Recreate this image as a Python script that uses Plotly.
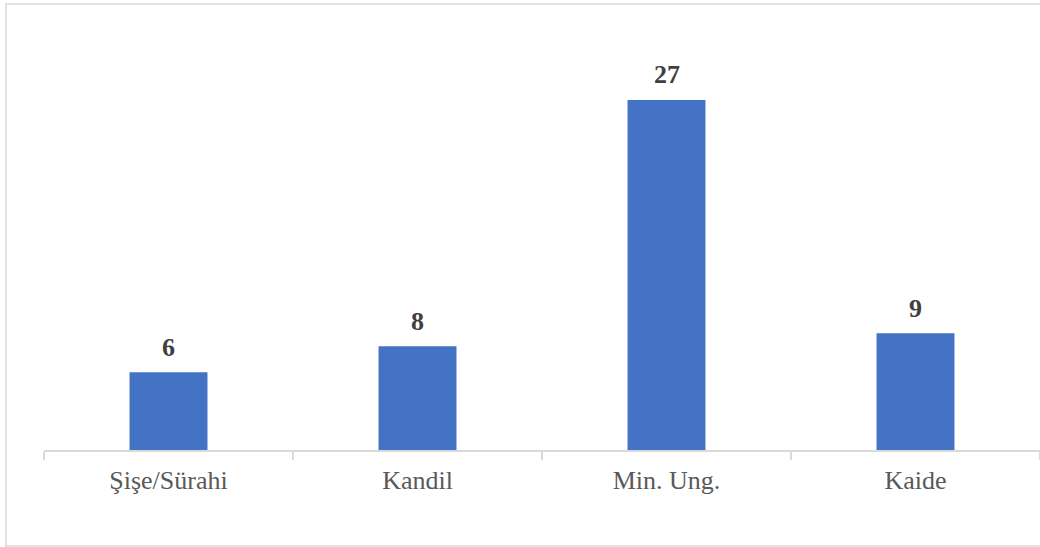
import plotly.graph_objects as go

categories = ["Şişe/Sürahi", "Kandil", "Min. Ung.", "Kaide"]
values = [6, 8, 27, 9]

fig = go.Figure()
fig.add_trace(go.Bar(
    x=categories, y=values,
    marker=dict(color="#4472C4", line=dict(width=0)),
    width=0.313,
    hoverinfo="skip",
))

for c, v in zip(categories, values):
    fig.add_annotation(
        x=c, y=v, text=f"<b>{v}</b>", showarrow=False,
        yanchor="middle", yshift=25,
        font=dict(family="Liberation Serif", size=26, color="#404040"),
    )

fig.add_shape(
    type="rect", xref="paper", yref="paper",
    x0=(6 - 44) / 996, x1=1.02, y0=(450 - 546) / 389, y1=(450 - 4) / 389,
    line=dict(color="#D9D9D9", width=1.5), fillcolor="rgba(0,0,0,0)", layer="below",
)

fig.update_layout(
    width=1040, height=547,
    margin=dict(l=44, r=0, t=61, b=97),
    paper_bgcolor="white", plot_bgcolor="white",
    showlegend=False,
    font=dict(family="Liberation Serif", size=26, color="#595959"),
)
fig.update_xaxes(
    showline=True, linecolor="#D9D9D9", linewidth=1.5,
    ticks="outside", ticklen=8, tickcolor="#D9D9D9", tickwidth=1.5,
    tickson="boundaries", showgrid=False, ticklabelstandoff=6,
    tickfont=dict(family="Liberation Serif", size=26, color="#595959"),
)
fig.update_yaxes(range=[0, 30], visible=False, showgrid=False, zeroline=False)

fig.write_html("out.html", config={"displayModeBar": False},
               post_script="document.body.style.margin='0';")
